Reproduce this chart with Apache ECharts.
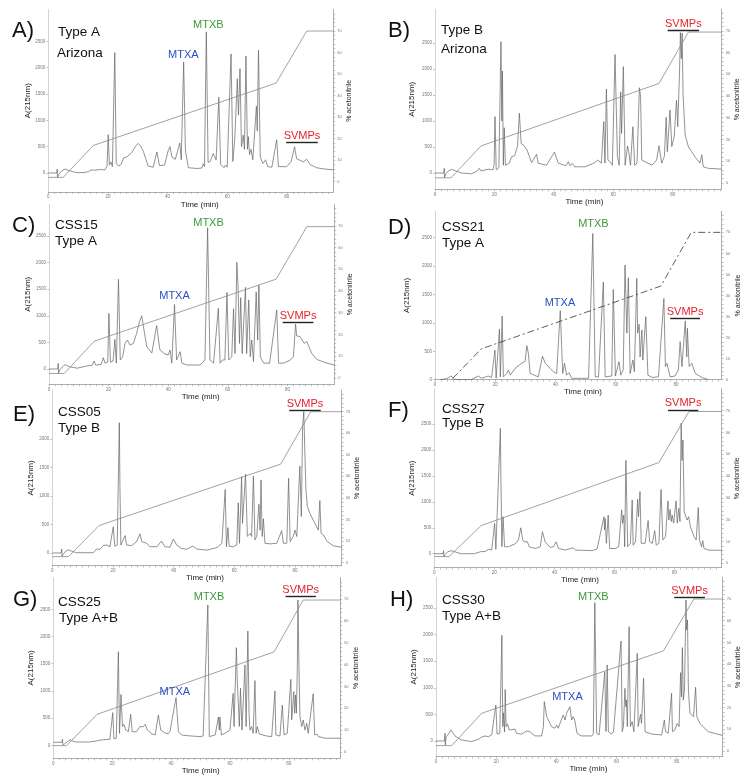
<!DOCTYPE html>
<html><head><meta charset="utf-8">
<script src="https://cdn.jsdelivr.net/npm/echarts@6/dist/echarts.min.js"></script>
<style>html,body{margin:0;padding:0;background:#fff}#c{width:750px;height:778px}</style>
</head><body><div id="c"></div>
<script>
// ---------- DATA ----------
const PANEL_KEYS = ['A','B','C','D','E','F','G','H'];
const PANEL_LETTERS = ['A)','B)','C)','D)','E)','F)','G)','H)'];
const SAMPLE_LINE1 = ['Type A','Type B','CSS15','CSS21','CSS05','CSS27','CSS25','CSS30'];
const SAMPLE_LINE2 = ['Arizona','Arizona','Type A','Type A','Type B','Type B','Type A+B','Type A+B'];
const X_LABELS = [0,20,40,60,80];
const X_MINOR = [0,2,4,6,8,10,12,14,16,18,20,22,24,26,28,30,32,34,36,38,40,42,44,46,48,50,52,54,56,58,60,62,64,66,68,70,72,74,76,78,80,82,84,86,88,90,92,94,96];
const LEFT_LABELS = [0,500,1000,1500,2000,2500];
const LEFT_LABELS_E = [0,500,1000,1500,2000];
const RIGHT_LABELS = [0,10,20,30,40,50,60,70];
const RIGHT_MINOR = [0,2,4,6,8,10,12,14,16,18,20,22,24,26,28,30,32,34,36,38,40,42,44,46,48,50,52,54,56,58,60,62,64,66,68,70,72,74,76,78];

const A_CHROM = [[0,0],[2.8,0],[3.0,75],[3.1,-85],[3.5,-25],[4.5,40],[5.6,75],[7,45],[9.5,5],[12,10],[13.5,25],[14.3,55],[14.8,30],[15.8,55],[16.4,35],[17.5,65],[18,40],[19,60],[19.7,130],[20.1,730],[20.5,150],[21,210],[21.5,120],[22.3,2285],[22.8,180],[23.6,130],[24.5,170],[25.3,290],[26.5,310],[28,390],[29.4,520],[30.2,560],[31,510],[32,390],[33.5,130],[35.2,110],[36.4,400],[37.3,140],[39,150],[40.2,420],[40.8,500],[41.5,300],[42.6,260],[43.6,460],[44.1,570],[44.6,250],[45.4,2110],[46,420],[47,100],[50,85],[51.5,95],[52,175],[52.4,120],[53,2680],[53.6,200],[54.3,220],[55.3,370],[56.3,250],[57.2,1440],[57.8,160],[59,100],[59.4,150],[60,110],[61.3,2260],[61.9,220],[62.6,700],[63.4,1790],[63.8,1100],[64.3,1980],[64.8,500],[65.4,720],[65.8,450],[66.3,2220],[66.8,450],[67.1,690],[67.5,350],[68,450],[68.6,250],[69.8,1270],[70.1,800],[70.5,2330],[71.1,300],[72,180],[72.9,250],[73.6,120],[75,110],[76.6,630],[77.2,120],[80,120],[81.5,220],[82.6,500],[83.3,270],[84.5,240],[85.5,210],[86.7,260],[87.8,160],[90,100],[92,80],[95.6,60]];
const B_CHROM = [[0,0],[3,0],[3.1,90],[3.2,-90],[3.6,-20],[4.5,40],[5.6,70],[7.5,30],[9,0],[12.3,-15],[14,30],[14.9,90],[15.5,40],[18,75],[19.5,60],[19.9,150],[20.2,1083],[20.6,60],[21.5,100],[22.2,2525],[22.5,1000],[22.7,1960],[23,150],[23.3,870],[23.7,150],[25,190],[25.8,315],[26.8,330],[27.8,520],[28.4,1150],[29,570],[30,525],[31,440],[32.5,200],[34.2,360],[34.7,190],[37.5,150],[40.2,400],[41.5,190],[44,140],[44.9,220],[45.4,140],[46.2,185],[47,120],[50.5,120],[53.5,190],[54.8,250],[56,190],[56.8,990],[57.2,190],[57.7,1615],[58.2,250],[58.9,220],[59.7,150],[60.6,2280],[61.4,320],[62,150],[62.5,1560],[62.8,760],[63.4,2045],[64,150],[64.8,520],[65.2,410],[65.8,150],[66.6,890],[67.2,150],[68,190],[68.8,1640],[69.2,1470],[69.6,250],[73,150],[74.6,250],[75.4,525],[76.3,190],[77.2,320],[77.8,1070],[78.2,410],[79.1,1210],[79.7,510],[80.5,700],[81.3,1400],[81.7,890],[82.3,1920],[82.6,2700],[82.9,2200],[83.2,2690],[83.5,1500],[84.2,730],[85.3,500],[86.4,410],[87.5,310],[89.2,190],[89.8,350],[90.3,120],[92,90],[96.5,75]];
const C_CHROM = [[0,0],[2.9,0],[3.1,105],[3.2,-80],[3.6,-20],[4.5,40],[5.4,80],[7,40],[9.5,15],[13,60],[14.5,70],[15.1,150],[15.7,70],[17.5,90],[18.2,213],[18.8,110],[19.7,130],[20.1,1046],[20.6,130],[21.5,150],[22.1,557],[22.6,110],[23.3,1685],[23.9,170],[24.7,230],[25.5,480],[26.3,545],[27.2,450],[28.3,480],[29.4,670],[30.3,877],[31.1,1000],[31.7,790],[32.8,420],[34.5,300],[36.1,815],[37.2,360],[38.9,280],[40,265],[40.6,357],[41.2,110],[42.1,1215],[42.8,170],[44,325],[44.6,110],[46.2,75],[50.7,75],[52.3,170],[53.2,2655],[54,170],[55.2,110],[56.8,1140],[57.4,110],[58.2,170],[59,170],[59.7,1440],[60.3,170],[61.3,230],[61.9,1130],[62.4,290],[63,2005],[63.4,1580],[63.9,480],[64.3,1340],[64.8,290],[65.9,1535],[66.3,290],[67,1300],[67.5,230],[68,545],[68.6,140],[69.5,1450],[70,545],[70.4,1580],[70.9,230],[72,110],[74,110],[76.4,1110],[77,110],[78.7,110],[81,170],[82,230],[82.7,840],[83.1,620],[84.2,610],[85.6,480],[86.5,515],[88.1,295],[89.8,180],[93.2,110],[95.7,75]];
const D_CHROM = [[1.7,0],[4,20],[5.3,65],[6.6,5],[8,0],[12,0],[14.4,65],[15.5,25],[17.7,65],[18.3,100],[18.8,40],[19.9,522],[20.3,25],[21.4,890],[21.7,50],[22.3,1120],[22.7,50],[23.8,110],[24.4,170],[25,80],[26.6,200],[28.8,290],[29.9,320],[30.5,600],[31,465],[31.6,110],[34.3,50],[35.7,415],[36.6,290],[38.2,200],[39.3,140],[40.4,110],[41.6,1215],[42.4,110],[43,290],[43.7,80],[44.5,125],[45.4,25],[51,25],[52.4,2575],[53.2,50],[54.3,50],[55.9,1720],[56.5,50],[58.7,65],[59.2,1590],[59.9,65],[61.1,317],[61.7,80],[62.5,170],[63.1,2020],[63.7,820],[64.2,1795],[64.8,110],[65.7,346],[66.2,140],[67,1785],[67.3,820],[67.8,975],[68.1,400],[68.7,875],[69,345],[70,1110],[70.7,80],[72,40],[74.2,50],[76,1430],[76.5,230],[77,290],[78.1,50],[79.7,65],[80.8,170],[81.4,670],[82,230],[83.1,1035],[83.6,400],[83.8,905],[84.4,230],[85.3,290],[86.4,110],[88.6,40],[90.8,0]];
const E_CHROM = [[0,0],[2.9,0],[3.1,70],[3.2,-65],[3.6,-20],[4.5,35],[5.3,55],[7,20],[8,5],[13.5,5],[14.6,70],[15.7,65],[16.8,130],[17.3,110],[17.9,140],[19,110],[20.1,460],[20.6,120],[21.4,140],[22.1,2285],[22.3,1160],[22.6,140],[24,305],[24.5,140],[26.2,130],[27.8,200],[28.9,335],[29.5,200],[31.1,170],[32.2,110],[34.5,110],[36,210],[37.1,110],[38.8,100],[39.9,245],[41,140],[42.6,80],[44.3,65],[46.3,120],[47.6,70],[51,50],[54.3,95],[55.9,170],[57,1115],[57.4,110],[57.9,445],[58.3,120],[59.7,110],[60.8,140],[61.3,880],[61.7,170],[62.4,1340],[62.7,520],[63.7,1385],[64.3,290],[65.2,345],[65.7,290],[66.3,1350],[66.8,230],[67.4,290],[68.1,855],[68.5,400],[68.8,1280],[69.2,290],[69.6,600],[70.1,170],[71.8,160],[74,170],[75.6,390],[76.2,170],[77.3,170],[77.9,1310],[78.4,200],[79.4,290],[80,400],[80.6,290],[81.6,1525],[82.1,640],[82.5,2215],[82.9,2480],[83.3,1690],[83.6,1120],[84.1,815],[84.9,695],[86.6,520],[87.7,400],[88,400],[88.2,920],[88.6,345],[89.4,315],[90.6,200],[92.7,125],[95.4,100]];
const F_CHROM = [[0,0],[2.9,0],[3.1,58],[3.2,-60],[3.6,-15],[4.5,40],[5.8,58],[7.5,25],[9,0],[13.3,0],[15.8,45],[16.9,40],[18,85],[19.1,70],[20.1,585],[20.5,85],[22,2420],[22.2,1360],[22.5,135],[22.9,715],[23.4,135],[24.7,135],[26.9,190],[28,265],[28.8,500],[29.4,275],[29.9,230],[30.5,200],[31,230],[31.6,135],[33.6,100],[35.3,135],[36,425],[36.9,230],[38.6,120],[39.7,135],[40.5,230],[41.4,100],[43.6,70],[46.2,115],[47,70],[52.5,60],[54.2,90],[56.5,715],[56.7,460],[56.9,680],[57.3,200],[57.9,745],[58.4,100],[60.3,100],[61.4,135],[62.4,845],[62.7,585],[63.1,745],[63.4,135],[63.8,1800],[64.4,135],[65.3,200],[65.9,1035],[66.2,165],[67,230],[67.7,1050],[68,715],[68.5,1200],[68.9,200],[70.2,200],[71.2,640],[71.7,230],[72.6,200],[73.4,445],[73.9,165],[74.8,200],[75.5,1240],[76.1,265],[77,330],[77.8,1020],[78.1,650],[78.5,855],[78.9,620],[79.2,745],[79.7,590],[80.5,1020],[80.9,590],[81.4,875],[81.8,620],[82.2,2520],[82.5,1800],[82.8,2195],[83.2,810],[83.6,810],[84.2,650],[84.7,715],[85.3,520],[85.9,500],[86.5,330],[87.2,265],[87.9,890],[88.3,265],[89,135],[89.4,250],[89.8,100],[91.4,70],[95.7,65]];
const G_CHROM = [[0,55],[2.9,55],[3.1,110],[3.3,0],[4,35],[5.7,100],[7,70],[8,60],[12,60],[14.7,80],[15.8,95],[18,105],[19.2,110],[19.8,115],[20.2,600],[20.6,120],[21.4,130],[22.1,1720],[22.5,220],[23,935],[23.5,345],[24,385],[24.6,280],[25.5,250],[26.3,570],[26.8,250],[28.3,250],[29.4,343],[30,310],[30.6,343],[31.2,385],[32,280],[33.5,210],[34.6,190],[35.7,557],[36.5,280],[37.9,230],[39,210],[39.6,250],[41.7,876],[42.5,250],[43.6,190],[45.9,175],[46.4,210],[49.8,160],[50.9,170],[52.5,2580],[53,160],[55,190],[56.1,520],[56.4,280],[56.6,520],[57.1,190],[58.3,220],[58.9,230],[60,280],[61.1,955],[61.4,345],[62.2,1795],[62.5,1200],[62.7,1200],[63.2,345],[63.6,1050],[64.1,280],[65.1,1477],[65.5,345],[66.1,2100],[66.5,590],[66.8,280],[67.4,345],[67.9,220],[68.5,1190],[68.9,220],[69.3,343],[70,210],[72.5,170],[74.2,160],[75.3,1000],[75.6,190],[77,170],[77.8,740],[78.4,190],[79.5,220],[80.7,1213],[81,470],[81.7,987],[82,590],[82.3,925],[82.6,590],[82.9,1415],[83.1,2670],[83.5,1325],[83.8,527],[84.4,345],[84.9,465],[85.5,280],[86.1,405],[86.6,220],[87.2,190],[88.3,945],[88.8,190],[89.5,208],[90.1,160],[92.4,130],[97.4,130]];
const H_CHROM = [[0,0],[2.8,0],[3,145],[3.1,-75],[3.4,80],[4,120],[5,207],[6.3,95],[8.4,20],[11.8,-10],[14,30],[15.1,70],[16.3,95],[17.4,80],[18.5,113],[19,95],[19.9,677],[20.3,130],[21.2,145],[21.9,1990],[22.2,270],[22.4,530],[22.8,170],[23,970],[23.3,270],[23.8,320],[24.3,210],[25.2,210],[26.2,225],[26.8,145],[28.4,130],[30.1,188],[31.2,175],[32.9,95],[35.1,95],[35.7,270],[36,740],[36.8,458],[38.4,270],[39.5,240],[40.1,300],[40.6,240],[41.2,270],[42.3,490],[42.9,395],[43.4,520],[43.9,490],[44.5,645],[45.1,395],[45.6,457],[46.1,395],[46.5,425],[46.9,145],[48.2,95],[51.8,95],[52.3,145],[52.8,2600],[53.4,145],[54.2,113],[56.1,1300],[56.5,180],[56.9,1430],[57.3,175],[57.8,145],[58.3,130],[59,175],[59.6,145],[61.5,1880],[61.9,175],[62.3,270],[62.8,990],[63.1,645],[63.3,770],[63.6,270],[64.2,2150],[64.6,270],[65.2,365],[65.8,175],[66.3,210],[66.9,1650],[67.2,270],[68,500],[68.3,330],[69,1180],[69.5,175],[71.7,130],[75,113],[75.9,395],[76.3,175],[77.2,145],[78.3,895],[78.6,175],[79.4,210],[80.2,330],[80.8,270],[81.3,1285],[81.6,830],[81.9,1755],[82.2,770],[82.6,960],[83.1,2650],[83.3,2085],[83.6,2275],[83.9,960],[84.4,520],[85,490],[85.6,458],[86.3,1010],[86.7,458],[87.7,330],[90.5,175],[95.2,105]];

const A_GRAD = [[0,2],[5,2],[15.1,16.8],[76.4,45.8],[86.7,70],[95.6,70]];
const B_GRAD = [[0,2.3],[5.4,2.3],[15.5,17],[75.4,45.8],[85.3,69.5],[96.5,69.5]];
const C_GRAD = [[0,2],[5.1,2],[15.2,16.9],[76.2,45.5],[86.5,69.7],[95.7,69.7]];
const D_GRAD = [[5.9,0.6],[15.3,14.6],[75,44.5],[85.1,70],[95.2,70]];
const E_GRAD = [[0,2.8],[5.3,2.8],[15.4,17.2],[75.3,45.7],[85.2,70],[95.4,70]];
const F_GRAD = [[0,3.1],[4.9,3.1],[15.6,17.3],[74.8,46.2],[84.8,69.6],[95.7,69.6]];
const G_GRAD = [[0,2.8],[4.5,2.8],[14.9,17.2],[75,45.9],[84.9,69.7],[97.4,69.7]];
const H_GRAD = [[0,2.5],[5.2,2.5],[15.2,17.4],[75.6,46.1],[85.7,70],[95.3,70]];

// annotation anchors in data coordinates [time, absorbance]
const MTXB_AT = {A:[53.7,2810], C:[53.5,2750], D:[52.6,2740], G:[52.9,2720], H:[52.3,2700]};
const MTXA_AT = {A:[45.3,2240], C:[42.1,1372], D:[41.5,1356], G:[41.3,987], H:[43.7,820]};
const SVMP_BAR = {A:[79.8,90.4,576], B:[78.3,88.9,2750], C:[78.4,88.7,871], D:[78.1,88,1080], E:[78.1,88.5,2509], F:[77.8,87.9,2775], G:[78.9,89.2,2733], H:[79.2,89.4,2700]};

const CHROMS = {A:A_CHROM,B:B_CHROM,C:C_CHROM,D:D_CHROM,E:E_CHROM,F:F_CHROM,G:G_CHROM,H:H_CHROM};
const GRADS = {A:A_GRAD,B:B_GRAD,C:C_GRAD,D:D_GRAD,E:E_GRAD,F:F_GRAD,G:G_GRAD,H:H_GRAD};

// ---------- LAYOUT ----------
const LAYOUT = {
 A:{lx:48.3,rx:333.3,t:9.5,b:192,ymin:-361,ymax:3104,pmin:-4.8,pmax:80,xmax:95.6,lg:14,rg:12,tg:4,ts:9, L:[12,31],N1:[58,32],N2:[57,53]},
 B:{lx:435,rx:721.7,t:9.3,b:189.3,ymin:-313,ymax:3148,pmin:-3.0,pmax:80,xmax:96.5,lg:19,rg:11,tg:5,ts:6, L:[388,31],N1:[441,30],N2:[441,49]},
 C:{lx:49,rx:334.3,t:204.3,b:384.3,ymin:-288,ymax:3096,pmin:-3.0,pmax:80,xmax:95.7,lg:15,rg:12,tg:3.5,ts:9, L:[12,226],N1:[55,225],N2:[55,241]},
 D:{lx:435,rx:721.7,t:211.3,b:379.7,ymin:0,ymax:2965,pmin:0,pmax:80,xmax:95.2,lg:24,rg:13,tg:8,ts:4.5, L:[388,228],N1:[442,227],N2:[442,243]},
 E:{lx:52.3,rx:341.7,t:390.1,b:565.7,ymin:-223,ymax:2858,pmin:-1.4,pmax:80,xmax:95.4,lg:18,rg:12,tg:7,ts:8, L:[13,415],N1:[58,412],N2:[58,428]},
 F:{lx:434.3,rx:721.7,t:388.8,b:567.7,ymin:-270,ymax:3183,pmin:-2.0,pmax:80,xmax:95.7,lg:18.6,rg:11,tg:4.3,ts:2, L:[388,411],N1:[442,409],N2:[442,423]},
 G:{lx:53.3,rx:340,t:577.6,b:758.3,ymin:-239,ymax:3083,pmin:-3.0,pmax:80,xmax:97.4,lg:18.6,rg:12,tg:2,ts:4, L:[13,600],N1:[58,602],N2:[59,618]},
 H:{lx:436,rx:722.7,t:577.3,b:756.7,ymin:-295,ymax:3077,pmin:-2.6,pmax:80,xmax:95.3,lg:18.7,rg:9.5,tg:3,ts:9, L:[390,600],N1:[442,600],N2:[442,616]}
};

const FONT = "'Liberation Sans', Arial, sans-serif";
const AX_COLOR = '#9a9a9a';
const plain = v => String(v);
const grids=[], xAxes=[], yAxes=[], series=[], graphics=[];

PANEL_KEYS.forEach((k,i)=>{
  const L = LAYOUT[k];
  const leftLabels = (k==='E'?LEFT_LABELS_E:LEFT_LABELS);
  grids.push({left:L.lx, top:L.t, width:L.rx-L.lx, height:L.b-L.t, containLabel:false});
  xAxes.push({type:'value', gridIndex:i, min:0, max:L.xmax,
    name:'Time (min)', nameLocation:'middle', nameGap:L.tg,
    nameTextStyle:{fontFamily:FONT, fontSize:8, color:'#222', verticalAlign:'top', padding:[0,0,0,2*L.ts]},
    axisLine:{show:true, onZero:false, lineStyle:{color:AX_COLOR, width:0.8}},
    axisTick:{show:true, customValues:X_MINOR.filter(v=>v<=L.xmax), length:2, lineStyle:{color:AX_COLOR,width:0.6}},
    axisLabel:{customValues:X_LABELS, formatter:plain, fontSize:4.5, color:'#777', margin:2.5, fontFamily:FONT},
    splitLine:{show:false}});
  yAxes.push({type:'value', gridIndex:i, position:'left', min:L.ymin, max:L.ymax,
    name:'A(215nm)', nameLocation:'middle', nameRotate:90, nameGap:L.lg,
    nameTextStyle:{fontFamily:FONT, fontSize:8, color:'#222'},
    axisLine:{show:true, onZero:false, lineStyle:{color:'#b5b5b5', width:0.6}},
    axisTick:{show:true, customValues:leftLabels, length:2, lineStyle:{color:AX_COLOR,width:0.6}},
    axisLabel:{customValues:leftLabels, formatter:plain, fontSize:4.5, color:'#777', margin:3, fontFamily:FONT},
    splitLine:{show:false}});
  yAxes.push({type:'value', gridIndex:i, position:'right', min:L.pmin, max:L.pmax,
    name:'% acetonitrile', nameLocation:'middle', nameRotate:90, nameGap:L.rg,
    nameTextStyle:{fontFamily:FONT, fontSize:7, color:'#222'},
    axisLine:{show:true, onZero:false, lineStyle:{color:AX_COLOR, width:0.8}},
    axisTick:{show:true, customValues:RIGHT_MINOR, length:2, lineStyle:{color:AX_COLOR,width:0.6}},
    axisLabel:{customValues:RIGHT_LABELS, formatter:plain, fontSize:4, color:'#777', margin:4, fontFamily:FONT},
    splitLine:{show:false}});

  const mpData=[];
  if (MTXB_AT[k]) mpData.push({coord:MTXB_AT[k], label:{formatter:'MTXB', color:'#3c9a3c'}});
  if (MTXA_AT[k]) mpData.push({coord:MTXA_AT[k], label:{formatter:'MTXA', color:'#2a4fc0'}});
  const sb = SVMP_BAR[k];
  series.push({type:'line', xAxisIndex:i, yAxisIndex:2*i, data:CHROMS[k], showSymbol:false, symbol:'none',
    lineStyle:{color:'#636363', width:0.7}, silent:true, animation:false, clip:true,
    markPoint:{symbol:'rect', symbolSize:1, itemStyle:{color:'rgba(0,0,0,0)'}, silent:true,
      label:{show:true, position:'inside', fontSize:11, fontFamily:FONT}, data:mpData},
    markLine:{symbol:['none','none'], silent:true, animation:false,
      lineStyle:{color:'#222', width:1.4, type:'solid'},
      label:{show:true, position:'middle', formatter:'SVMPs', color:'#e3222b', fontSize:11, fontFamily:FONT, distance:1},
      data:[[{coord:[sb[0],sb[2]]},{coord:[sb[1],sb[2]]}]]}
  });
  series.push({type:'line', xAxisIndex:i, yAxisIndex:2*i+1, data:GRADS[k], showSymbol:false, symbol:'none',
    lineStyle:(k==='D'?{color:'#333', width:0.8, type:[7,3,2,3]}:{color:'#8a8a8a', width:0.8}),
    silent:true, animation:false});

  graphics.push({type:'text', x:L.L[0], y:L.L[1], silent:true, style:{text:PANEL_LETTERS[i], font:'22px '+FONT, fill:'#111', verticalAlign:'middle'}});
  graphics.push({type:'text', x:L.N1[0], y:L.N1[1], silent:true, style:{text:SAMPLE_LINE1[i], font:'13.5px '+FONT, fill:'#111', verticalAlign:'middle'}});
  graphics.push({type:'text', x:L.N2[0], y:L.N2[1], silent:true, style:{text:SAMPLE_LINE2[i], font:'13.5px '+FONT, fill:'#111', verticalAlign:'middle'}});
});

const chart = echarts.init(document.getElementById('c'), null, {renderer:'canvas'});
chart.setOption({animation:false, backgroundColor:'#fff', grid:grids, xAxis:xAxes, yAxis:yAxes, series:series, graphic:graphics});
</script></body></html>
